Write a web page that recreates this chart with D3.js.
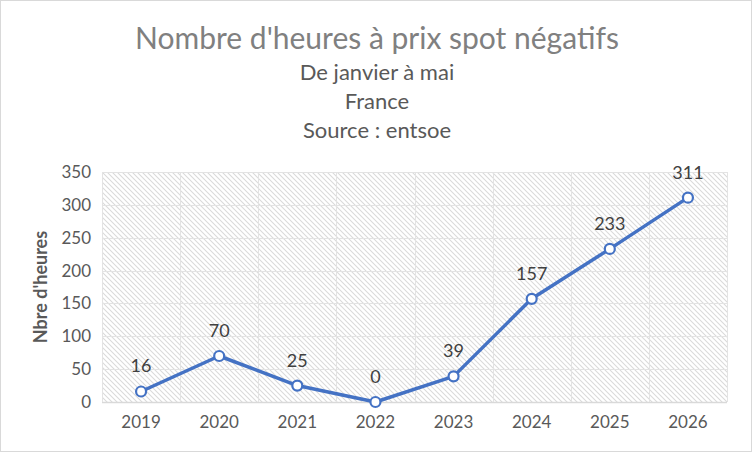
<!DOCTYPE html>
<html>
<head>
<meta charset="utf-8">
<script src="https://cdn.jsdelivr.net/npm/d3@7"></script>
<style>
  body { margin: 0; background: #fff; }
  svg { display: block; font-family: Lato, "Open Sans", sans-serif; }
</style>
</head>
<body>
<svg class="chart"></svg>
<script>
// data
const years = ["2019", "2020", "2021", "2022", "2023", "2024", "2025", "2026"];
const hours = [16, 70, 25, 0, 39, 157, 233, 311];
const yTicks = [0, 50, 100, 150, 200, 250, 300, 350];
const titleLines = ["De janvier à mai", "France", "Source : entsoe"];

const W = 752, H = 452;
const margin = {top: 172, right: 25, bottom: 50, left: 102};
const width = W - margin.left - margin.right;
const height = H - margin.top - margin.bottom;

var svg = d3.select(".chart").attr("width", W).attr("height", H);

// hatch pattern for the plot area
var defs = svg.append("defs");
var pat = defs.append("pattern")
  .attr("id", "hatch")
  .attr("patternUnits", "userSpaceOnUse")
  .attr("width", 5).attr("height", 5);
pat.append("path")
  .attr("d", "M-1,-1 L6,6 M-1,4 L1,6 M4,-1 L6,1")
  .attr("stroke", "#dadada")
  .attr("stroke-width", 1.1);

// outer border
svg.append("rect")
  .attr("x", 0.5).attr("y", 0.5)
  .attr("width", W - 1).attr("height", H - 1)
  .attr("fill", "#fff").attr("stroke", "#d9d9d9");

// titles
svg.append("text")
  .attr("x", 377).attr("y", 49)
  .attr("text-anchor", "middle")
  .attr("font-size", 30).attr("fill", "#808080")
  .text("Nombre d'heures à prix spot négatifs");

svg.selectAll(".sub").data(titleLines).enter().append("text")
  .attr("class", "sub")
  .attr("x", 377).attr("y", (d, i) => 80 + i * 29)
  .attr("text-anchor", "middle")
  .attr("font-size", 22).attr("fill", "#595959")
  .text(d => d);

var g = svg.append("g").attr("transform", "translate(" + margin.left + "," + margin.top + ")");

var x = d3.scaleBand().domain(years).range([0, width]);
var y = d3.scaleLinear().domain([0, 350]).range([height, 0]);

g.append("rect")
  .attr("width", width).attr("height", height)
  .attr("fill", "url(#hatch)");

// grid lines
g.append("g").selectAll("line").data(yTicks).enter().append("line")
  .attr("x1", 0).attr("x2", width)
  .attr("y1", d => Math.round(y(d)) + 0.5).attr("y2", d => Math.round(y(d)) + 0.5)
  .attr("stroke", d => d === 0 ? "#d9d9d9" : "#e3e3e3")
  .attr("stroke-width", d => d === 0 ? 1.5 : 1);

g.append("g").selectAll("line").data(years.concat(["end"])).enter().append("line")
  .attr("x1", (d, i) => Math.round(i * x.step()) + 0.5)
  .attr("x2", (d, i) => Math.round(i * x.step()) + 0.5)
  .attr("y1", 0).attr("y2", height)
  .attr("stroke", "#e3e3e3");

// axes
var yAxis = d3.axisLeft(y).tickValues(yTicks).tickSize(0).tickPadding(11);
g.append("g").call(yAxis)
  .call(a => a.select(".domain").remove())
  .selectAll("text")
  .attr("font-size", 17).attr("fill", "#595959")
  .attr("font-family", "Lato, 'Open Sans', sans-serif");

var xAxis = d3.axisBottom(x).tickSize(0).tickPadding(14);
g.append("g").attr("transform", "translate(0," + height + ")").call(xAxis)
  .call(a => a.select(".domain").remove())
  .selectAll("text")
  .attr("font-size", 17).attr("fill", "#595959")
  .attr("font-family", "Lato, 'Open Sans', sans-serif");

svg.append("text")
  .attr("transform", "translate(47," + (margin.top + height / 2) + ") rotate(-90)")
  .attr("text-anchor", "middle")
  .attr("font-size", 18).attr("font-weight", "bold").attr("fill", "#595959")
  .text("Nbre d'heures");

var data = years.map((yr, i) => ({year: yr, value: hours[i]}));

var line = d3.line()
  .x(d => x(d.year) + x.bandwidth() / 2)
  .y(d => y(d.value));

g.append("path")
  .datum(data)
  .attr("fill", "none")
  .attr("stroke", "#4472c4")
  .attr("stroke-width", 3.5)
  .attr("stroke-linejoin", "round")
  .attr("stroke-linecap", "round")
  .attr("d", line);

g.selectAll(".pt").data(data).enter().append("circle")
  .attr("class", "pt")
  .attr("cx", d => x(d.year) + x.bandwidth() / 2)
  .attr("cy", d => y(d.value))
  .attr("r", 5)
  .attr("fill", "#fff")
  .attr("stroke", "#4472c4")
  .attr("stroke-width", 2.2);

g.selectAll(".lbl").data(data).enter().append("text")
  .attr("class", "lbl")
  .attr("x", d => x(d.year) + x.bandwidth() / 2)
  .attr("y", d => y(d.value) - 19)
  .attr("text-anchor", "middle")
  .attr("font-size", 18).attr("fill", "#404040")
  .text(d => d.value);
</script>
</body>
</html>
